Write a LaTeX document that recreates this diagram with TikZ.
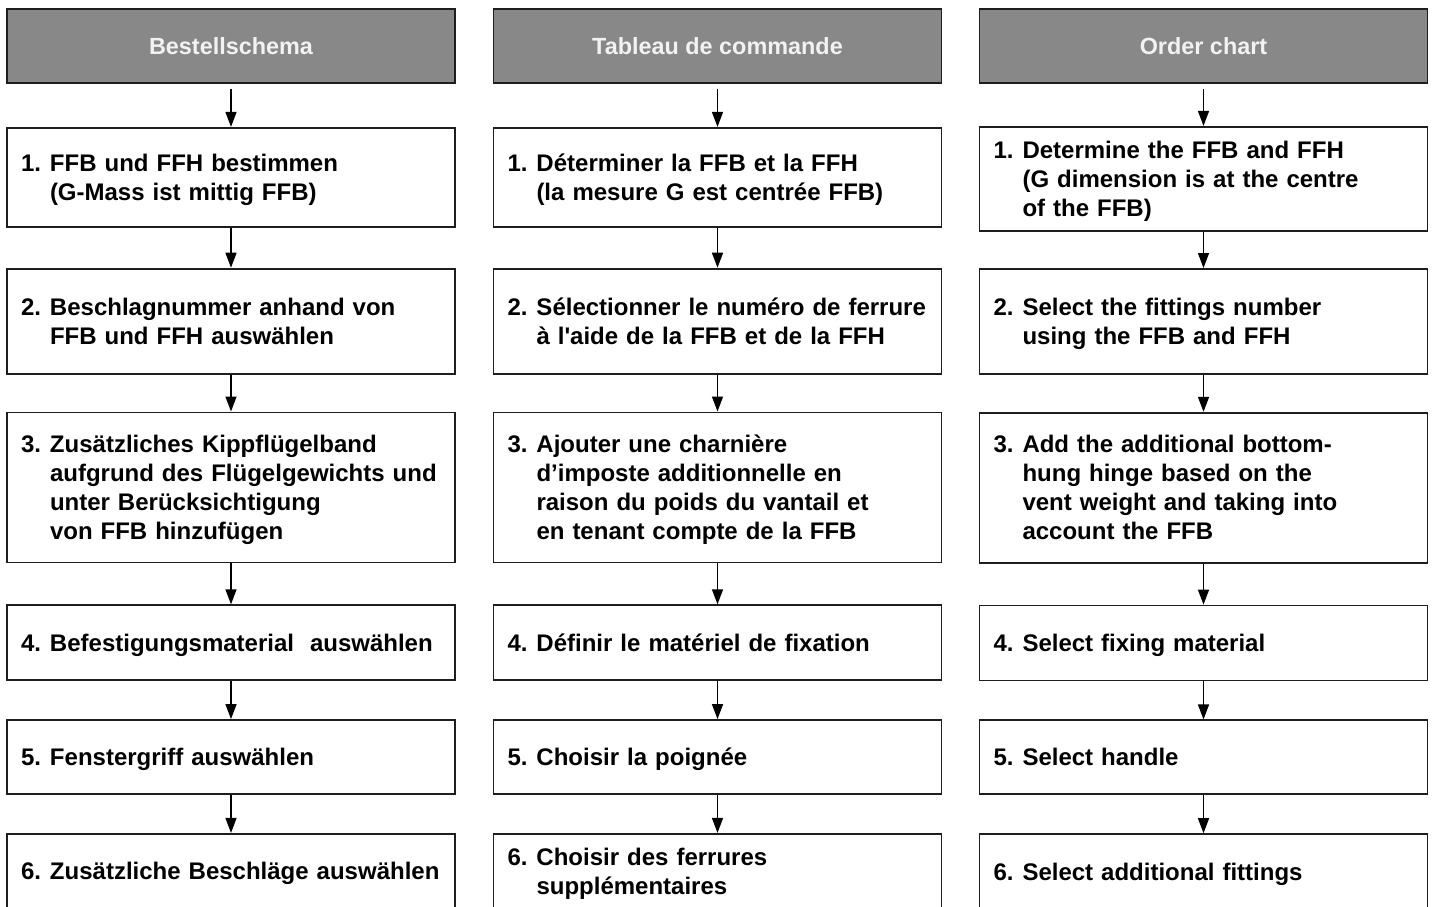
\documentclass[tikz,border=0pt]{standalone}
\usepackage{fontspec}
\setmainfont{Liberation Sans}
\usetikzlibrary{positioning,arrows.meta}
\usepackage{xcolor}

\definecolor{headgray}{HTML}{888888}
\definecolor{rulegray}{HTML}{1E1E1E}

% numbered step: number in a fixed column, lines hang after it
\newcommand{\stp}[2]{\rule{0pt}{12.8pt}\makebox[14.5pt][l]{#1}\begin{tabular}[t]{@{}l@{}}#2\end{tabular}}

\begin{document}
\begin{tikzpicture}[
      >={Triangle[length=7.5pt,width=5.5pt]},
      node distance=19pt,
      head/.style={draw=rulegray, line width=0.9pt, fill=headgray, text=white!95!black, minimum width=224pt, minimum height=37pt, font=\bfseries\fontsize{11.7}{14}\selectfont},
      stepbox/.style={draw=rulegray, line width=0.9pt, fill=white, text width=210pt, inner xsep=7pt, inner ysep=3pt, align=left, font=\bfseries\fontsize{12}{14.5}\selectfont},
      flow/.style={->, line width=0.7pt, draw=black}
  ]
    \useasboundingbox (0,0) rectangle (717.5pt,-453pt);

    % German column
    \node[head] (de0) at (115.5pt,-23pt) {Bestellschema};
    \node[stepbox, minimum height=49.5pt, below=21.5pt of de0] (de1) {\stp{1.}{FFB und FFH bestimmen\\(G-Mass ist mittig FFB)}};
    \node[stepbox, minimum height=52.5pt, below=20pt of de1] (de2) {\stp{2.}{Beschlagnummer anhand von\\FFB und FFH auswählen}};
    \node[stepbox, minimum height=75pt, below=18.5pt of de2] (de3) {\stp{3.}{Zusätzliches Kippflügelband\\aufgrund des Flügelgewichts und\\unter Berücksichtigung\\von FFB hinzufügen}};
    \node[stepbox, minimum height=37.5pt, below=20.5pt of de3] (de4) {\stp{4.}{Befestigungsmaterial\ \ auswählen}};
    \node[stepbox, minimum height=37pt, below=of de4] (de5) {\stp{5.}{Fenstergriff auswählen}};
    \node[stepbox, minimum height=37.5pt, below=of de5] (de6) {\stp{6.}{Zusätzliche Beschläge auswählen}};

    % French column
    \node[head] (fr0) at (358.75pt,-23pt) {Tableau de commande};
    \node[stepbox, minimum height=49.5pt, below=21.5pt of fr0] (fr1) {\stp{1.}{Déterminer la FFB et la FFH\\(la mesure G est centrée FFB)}};
    \node[stepbox, minimum height=52.5pt, below=20pt of fr1] (fr2) {\stp{2.}{Sélectionner le numéro de ferrure\\à l\textquotesingle aide de la FFB et de la FFH}};
    \node[stepbox, minimum height=75pt, below=18.5pt of fr2] (fr3) {\stp{3.}{Ajouter une charnière\\d’imposte additionnelle en\\raison du poids du vantail et\\en tenant compte de la FFB}};
    \node[stepbox, minimum height=37.5pt, below=20.5pt of fr3] (fr4) {\stp{4.}{Définir le matériel de fixation}};
    \node[stepbox, minimum height=37pt, below=of fr4] (fr5) {\stp{5.}{Choisir la poignée}};
    \node[stepbox, minimum height=37.5pt, below=of fr5] (fr6) {\stp{6.}{Choisir des ferrures\\supplémentaires}};

    % English column
    \node[head] (en0) at (601.75pt,-23pt) {Order chart};
    \node[stepbox, minimum height=52pt, below=21pt of en0] (en1) {\stp{1.}{Determine the FFB and FFH\\(G dimension is at the centre\\of the FFB)}};
    \node[stepbox, minimum height=52.5pt, below=18pt of en1] (en2) {\stp{2.}{Select the fittings number\\using the FFB and FFH}};
    \node[stepbox, minimum height=75pt, below=18.5pt of en2] (en3) {\stp{3.}{Add the additional bottom-\\hung hinge based on the\\vent weight and taking into\\account the FFB}};
    \node[stepbox, minimum height=37.5pt, below=20.5pt of en3] (en4) {\stp{4.}{Select fixing material}};
    \node[stepbox, minimum height=37pt, below=of en4] (en5) {\stp{5.}{Select handle}};
    \node[stepbox, minimum height=37.5pt, below=of en5] (en6) {\stp{6.}{Select additional fittings}};

    \draw[flow, shorten <=2.5pt] (de0) -- (de1);
    \draw[flow] (de1) -- (de2);
    \draw[flow] (de2) -- (de3);
    \draw[flow] (de3) -- (de4);
    \draw[flow] (de4) -- (de5);
    \draw[flow] (de5) -- (de6);

    \draw[flow, shorten <=2.5pt] (fr0) -- (fr1);
    \draw[flow] (fr1) -- (fr2);
    \draw[flow] (fr2) -- (fr3);
    \draw[flow] (fr3) -- (fr4);
    \draw[flow] (fr4) -- (fr5);
    \draw[flow] (fr5) -- (fr6);

    \draw[flow, shorten <=2.5pt] (en0) -- (en1);
    \draw[flow] (en1) -- (en2);
    \draw[flow] (en2) -- (en3);
    \draw[flow] (en3) -- (en4);
    \draw[flow] (en4) -- (en5);
    \draw[flow] (en5) -- (en6);
  \end{tikzpicture}
\end{document}
